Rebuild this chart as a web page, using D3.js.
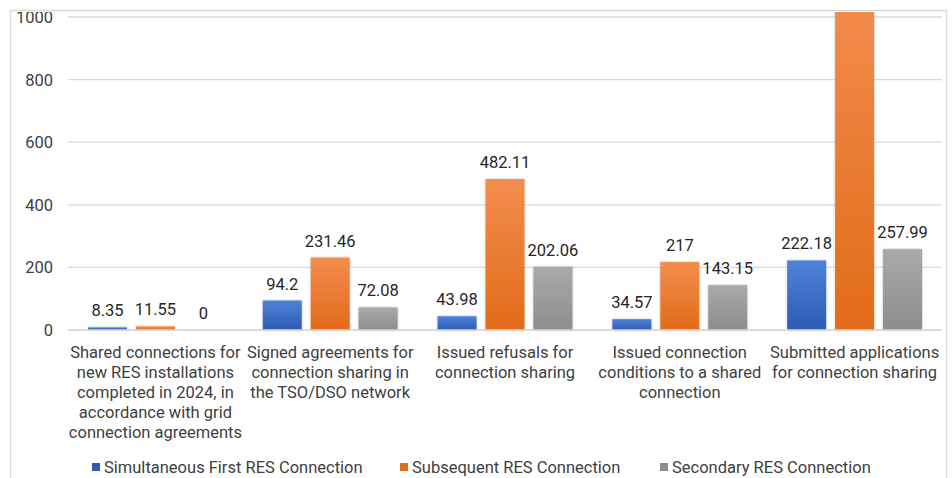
<!DOCTYPE html>
<html>
<head>
<meta charset="utf-8">
<script src="https://cdn.jsdelivr.net/npm/d3@7"></script>
<style>
  body { margin: 0; background: #fff; }
  svg { display: block; font-family: Roboto, "Noto Sans", sans-serif; }
</style>
</head>
<body>
<svg id="chart" width="952" height="478"></svg>
<script>
// categories, split into the lines shown under the axis
const categories = [
  ["Shared connections for", "new RES installations", "completed in 2024, in", "accordance with grid", "connection agreements"],
  ["Signed agreements for", "connection sharing in", "the TSO/DSO network"],
  ["Issued refusals for", "connection sharing"],
  ["Issued connection", "conditions to a shared", "connection"],
  ["Submitted applications", "for connection sharing"]
];
const seriesNames = ["Simultaneous First RES Connection", "Subsequent RES Connection", "Secondary RES Connection"];
const firstRes = [8.35, 94.2, 43.98, 34.57, 222.18];
const subsequentRes = [11.55, 231.46, 482.11, 217, 1100]; // last one runs off the top, label not visible
const secondaryRes = [0, 72.08, 202.06, 143.15, 257.99];
const yTicks = [0, 200, 400, 600, 800, 1000];

const colors = [
  ["#4f82d8", "#2d5cb3"],
  ["#f38d4e", "#e26b19"],
  ["#a9a9a9", "#8d8d8d"]
];

const svg = d3.select("#chart");
const left = 68, right = 942, y0 = 330, yTop = 17;
const fs = 16.5;

// frame of the chart area
svg.append("rect")
  .attr("x", 10.5).attr("y", 10.5)
  .attr("width", 936).attr("height", 480)
  .attr("fill", "none")
  .attr("stroke", "#d9d9d9")
  .attr("stroke-width", 1.5);

const defs = svg.append("defs");
colors.forEach((c, i) => {
  const g = defs.append("linearGradient")
    .attr("id", "grad" + i)
    .attr("x1", 0).attr("y1", 0).attr("x2", 0).attr("y2", 1);
  g.append("stop").attr("offset", "0%").attr("stop-color", c[0]);
  g.append("stop").attr("offset", "100%").attr("stop-color", c[1]);
});
defs.append("filter").attr("id", "shadow")
  .attr("x", "-20%").attr("y", "-20%").attr("width", "140%").attr("height", "140%")
  .append("feDropShadow")
  .attr("dx", 0).attr("dy", 0)
  .attr("stdDeviation", 1.3)
  .attr("flood-color", "#000")
  .attr("flood-opacity", 0.3);
defs.append("clipPath").attr("id", "plotclip")
  .append("rect").attr("x", 11).attr("y", 12).attr("width", 934).attr("height", 470);

const y = d3.scaleLinear().domain([0, 1000]).range([y0, yTop]);
const x0 = d3.scaleBand().domain(d3.range(categories.length)).range([left, right]);
const x1 = d3.scaleBand().domain(d3.range(3))
  .range([20, x0.bandwidth() - 20])
  .paddingInner(0.1875);

const plot = svg.append("g").attr("clip-path", "url(#plotclip)");

// gridlines + y tick labels
plot.append("g")
  .selectAll("line")
  .data(yTicks)
  .join("line")
  .attr("x1", left).attr("x2", right)
  .attr("y1", d => y(d)).attr("y2", d => y(d))
  .attr("stroke", "#d9d9d9")
  .attr("stroke-width", 1.3);

plot.append("g")
  .selectAll("text")
  .data(yTicks)
  .join("text")
  .attr("x", 53)
  .attr("y", d => y(d) + 6)
  .attr("text-anchor", "end")
  .attr("font-size", fs)
  .attr("fill", "#404040")
  .text(d => d);

const series = [firstRes, subsequentRes, secondaryRes];
const rows = [];
series.forEach((vals, s) => vals.forEach((v, c) => rows.push({ s, c, v })));

plot.append("g")
  .selectAll("rect")
  .data(rows.filter(d => d.v > 0))
  .join("rect")
  .attr("x", d => x0(d.c) + x1(d.s))
  .attr("y", d => y(d.v))
  .attr("width", x1.bandwidth())
  .attr("height", d => y0 - y(d.v))
  .attr("fill", d => `url(#grad${d.s})`)
  .attr("filter", "url(#shadow)");

// baseline
plot.append("line")
  .attr("x1", left).attr("x2", right)
  .attr("y1", y0).attr("y2", y0)
  .attr("stroke", "#d9d9d9")
  .attr("stroke-width", 1.5);

// data labels (the one above the visible range is not shown in the source)
plot.append("g")
  .selectAll("text")
  .data(rows.filter(d => d.v <= y.domain()[1]))
  .join("text")
  .attr("x", d => x0(d.c) + x1(d.s) + x1.bandwidth() / 2)
  .attr("y", d => y(d.v) - 11)
  .attr("text-anchor", "middle")
  .attr("font-size", fs)
  .attr("fill", "#262626")
  .text(d => d.v);

// category labels
const cat = svg.append("g");
categories.forEach((lines, c) => {
  cat.append("text")
    .attr("x", x0(c) + x0.bandwidth() / 2)
    .attr("y", 358)
    .attr("text-anchor", "middle")
    .attr("font-size", fs)
    .attr("fill", "#404040")
    .selectAll("tspan")
    .data(lines)
    .join("tspan")
    .attr("x", x0(c) + x0.bandwidth() / 2)
    .attr("dy", (d, i) => i === 0 ? 0 : 20)
    .text(d => d);
});

// legend
const legendX = [92, 400, 660];
const legend = svg.append("g");
seriesNames.forEach((name, i) => {
  legend.append("rect")
    .attr("x", legendX[i]).attr("y", 463)
    .attr("width", 8).attr("height", 8)
    .attr("fill", colors[i][1]);
  legend.append("text")
    .attr("x", legendX[i] + 12).attr("y", 473)
    .attr("font-size", fs)
    .attr("fill", "#404040")
    .text(name);
});
</script>
</body>
</html>
